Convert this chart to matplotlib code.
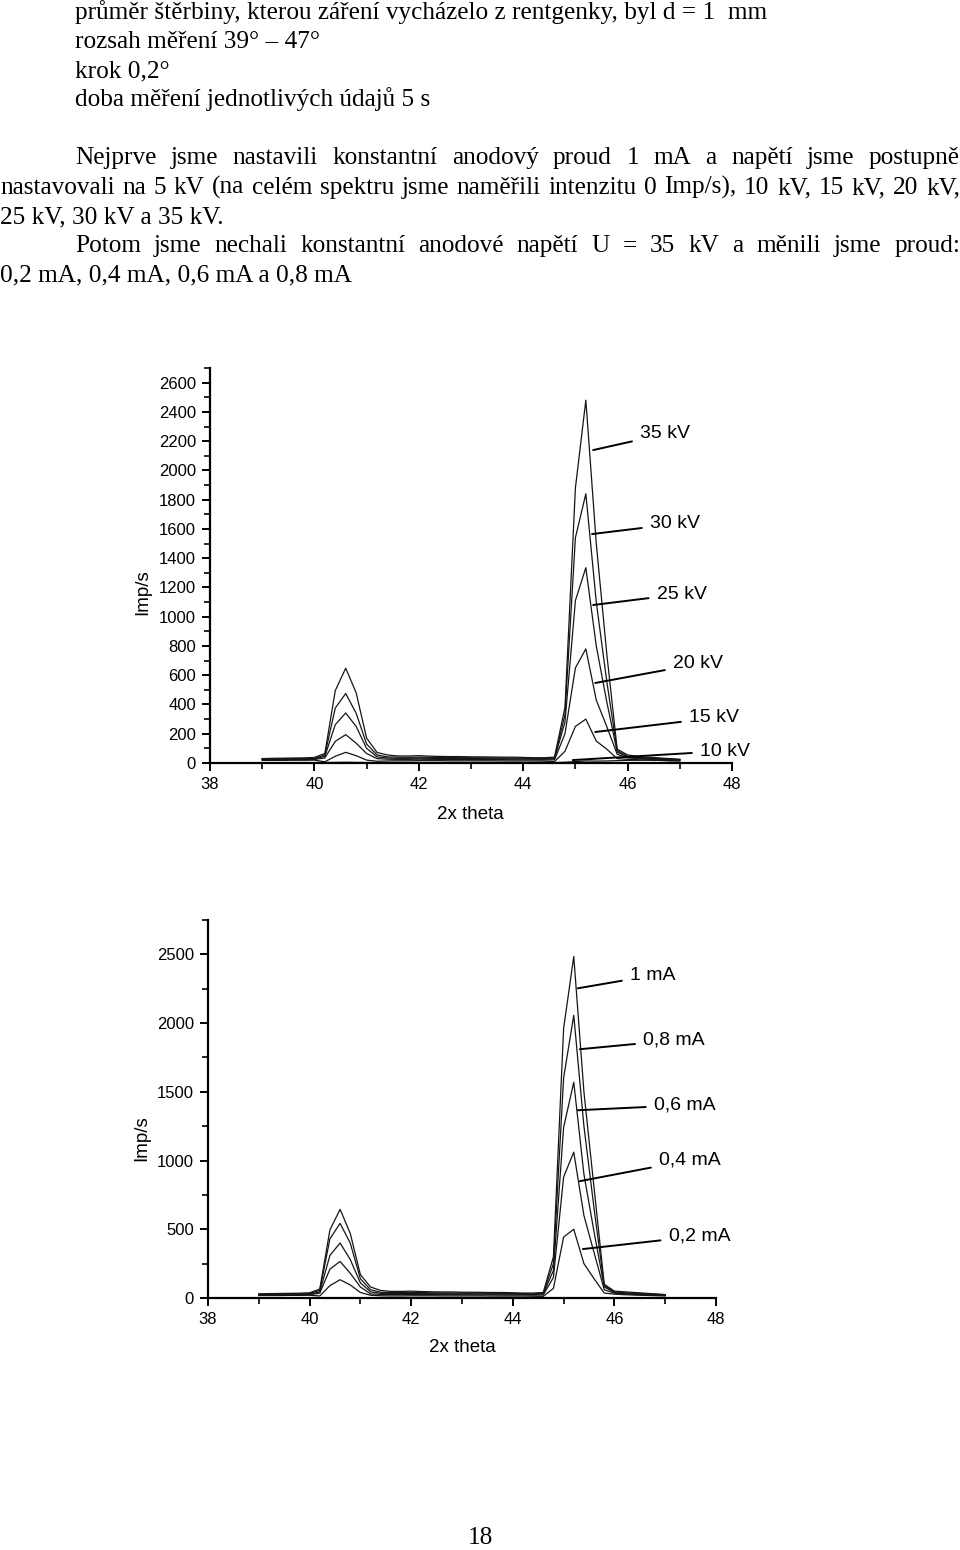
import matplotlib
matplotlib.use('Agg')
import matplotlib.pyplot as plt
from matplotlib.ticker import MultipleLocator

# uhel 2x theta, krok 0,2 stupne
theta = [39.0, 39.2, 39.4, 39.6, 39.8, 40.0, 40.2, 40.4, 40.6, 40.8,
         41.0, 41.2, 41.4, 41.6, 41.8, 42.0, 42.2, 42.4, 42.6, 42.8,
         43.0, 43.2, 43.4, 43.6, 43.8, 44.0, 44.2, 44.4, 44.6, 44.8,
         45.0, 45.2, 45.4, 45.6, 45.8, 46.0, 46.2, 46.4, 46.6, 46.8, 47.0]

# graf 1: proud 1 mA, ruzne napeti
napeti_popisky = ['35 kV', '30 kV', '25 kV', '20 kV', '15 kV', '10 kV']
kv35 = [30, 32, 33, 34, 35, 38, 65, 495, 648, 480, 170, 72, 55, 48, 48, 50, 47, 45, 44, 44,
        42, 42, 41, 40, 40, 38, 36, 36, 40, 380, 1880, 2480, 1500, 750, 95, 55, 45, 40, 35, 30, 25]
kv30 = [28, 28, 29, 30, 30, 32, 55, 376, 475, 340, 130, 55, 42, 40, 39, 40, 39, 38, 37, 36,
        36, 35, 35, 34, 34, 33, 32, 30, 35, 330, 1540, 1840, 1100, 560, 85, 45, 38, 34, 30, 27, 24]
kv25 = [25, 25, 26, 26, 27, 28, 45, 262, 342, 250, 100, 42, 34, 32, 32, 33, 32, 31, 31, 30,
        30, 30, 29, 29, 28, 28, 27, 26, 30, 280, 1110, 1335, 800, 420, 75, 40, 34, 30, 27, 24, 22]
kv20 = [22, 22, 22, 23, 23, 24, 35, 148, 194, 135, 65, 30, 26, 25, 25, 26, 25, 25, 24, 24,
        24, 23, 23, 23, 22, 22, 22, 21, 22, 200, 650, 780, 430, 250, 60, 35, 30, 26, 24, 22, 20]
kv15 = [18, 18, 18, 19, 19, 20, 8, 46, 73, 50, 20, 12, 14, 15, 15, 16, 16, 16, 15, 15,
        15, 15, 15, 14, 14, 14, 14, 13, 10, 80, 250, 300, 150, 95, 30, 25, 22, 20, 18, 16, 15]
kv10 = [3, 3, 3, 3, 3, 3, 3, 4, 5, 4, 3, 3, 3, 3, 3, 3, 3, 3, 3, 3,
        3, 3, 3, 3, 3, 3, 3, 3, 3, 5, 10, 14, 13, 14, 16, 18, 19, 20, 18, 16, 15]

# graf 2: napeti 35 kV, ruzne proudy
proud_popisky = ['1 mA', '0,8 mA', '0,6 mA', '0,4 mA', '0,2 mA']
ma10 = [30, 32, 33, 34, 35, 38, 65, 495, 645, 470, 170, 80, 55, 48, 48, 50, 47, 45, 44, 44,
        42, 42, 41, 40, 40, 38, 36, 36, 40, 300, 1960, 2485, 1500, 800, 100, 50, 45, 40, 35, 30, 25]
ma08 = [28, 28, 29, 30, 30, 32, 55, 430, 543, 400, 140, 60, 42, 40, 39, 40, 39, 38, 37, 36,
        36, 35, 35, 34, 34, 33, 32, 30, 35, 250, 1600, 2057, 1250, 650, 90, 45, 38, 34, 30, 27, 24]
ma06 = [25, 25, 26, 26, 27, 28, 45, 310, 400, 280, 110, 45, 34, 32, 32, 33, 32, 31, 31, 30,
        30, 30, 29, 29, 28, 28, 27, 26, 30, 200, 1240, 1570, 900, 480, 80, 40, 34, 30, 27, 24, 22]
ma04 = [22, 22, 22, 23, 23, 24, 35, 210, 266, 180, 80, 30, 26, 25, 25, 26, 25, 25, 24, 24,
        24, 23, 23, 23, 22, 22, 22, 21, 22, 150, 880, 1061, 600, 330, 60, 35, 30, 26, 24, 22, 20]
ma02 = [18, 18, 18, 19, 19, 20, 15, 90, 133, 95, 40, 20, 16, 15, 15, 16, 16, 16, 15, 15,
        15, 15, 15, 14, 14, 14, 14, 13, 12, 70, 443, 500, 250, 140, 36, 28, 24, 21, 19, 17, 15]

W, H = 960, 1550
fig = plt.figure(figsize=(W / 100, H / 100), dpi=100)
fig.patch.set_facecolor('white')

serif = 'Liberation Serif'
sans = 'Liberation Sans'
fs_txt = 18.2


def px(x, y):
    return x / W, 1 - y / H


renderer = fig.canvas.get_renderer()


def sirka(s):
    t = fig.text(0, 0, s, fontsize=fs_txt, family=serif)
    w = t.get_window_extent(renderer).width
    t.remove()
    return w


def radek(s, x0, y, x1=None):
    # y = stred radku, text se klade na uctarici
    yb = y + 7
    if x1 is None:
        fig.text(*px(x0, yb), s, fontsize=fs_txt, family=serif, va='baseline', ha='left')
        return
    slova = s.split(' ')
    ws = [sirka(w) for w in slova]
    mezera = (x1 - x0 - sum(ws)) / (len(slova) - 1)
    x = x0
    for w, ww in zip(slova, ws):
        fig.text(*px(x, yb), w, fontsize=fs_txt, family=serif, va='baseline', ha='left')
        x += ww + mezera


radek('průměr štěrbiny, kterou záření vycházelo z rentgenky, byl d = 1  mm', 75, 12)
radek('rozsah měření 39° – 47°', 75, 41)
radek('krok 0,2°', 75, 70)
radek('doba měření jednotlivých údajů 5 s', 75, 99)
radek('Nejprve jsme nastavili konstantní anodový proud 1 mA a napětí jsme postupně', 75, 157, 960)
radek('nastavovali na 5 kV (na celém spektru jsme naměřili intenzitu 0 Imp/s), 10 kV, 15 kV, 20 kV,', 0, 187, 960)
radek('25 kV, 30 kV a 35 kV.', 0, 216)
radek('Potom jsme nechali konstantní anodové napětí U = 35 kV a měnili jsme proud:', 75, 245, 960)
radek('0,2 mA, 0,4 mA, 0,6 mA a 0,8 mA', 0, 274)
fig.text(*px(480, 1538), '18', fontsize=fs_txt, family=serif, ha='center', va='center')


def graf(rect, serie, popisky, ymax, major, minor, pozice):
    ax = fig.add_axes(rect)
    for s in serie:
        ax.plot(theta, s, color='#151515', lw=0.9)
    ax.set_xlim(38, 48)
    ax.set_ylim(0, ymax)
    ax.xaxis.set_major_locator(MultipleLocator(2))
    ax.xaxis.set_minor_locator(MultipleLocator(1))
    ax.yaxis.set_major_locator(MultipleLocator(major))
    ax.yaxis.set_minor_locator(MultipleLocator(minor))
    for side in ['top', 'right']:
        ax.spines[side].set_visible(False)
    for side in ['left', 'bottom']:
        ax.spines[side].set_linewidth(1.6)
    ax.tick_params(which='major', direction='out', length=6, width=1.4, labelsize=12, pad=4)
    ax.tick_params(which='minor', direction='out', length=4, width=1.2)
    for lab in ax.get_xticklabels() + ax.get_yticklabels():
        lab.set_family(sans)
    for text, (xy, xyt) in zip(popisky, pozice):
        ax.annotate(text, xy=xy, xytext=xyt, ha='left', va='center', fontsize=14, family=sans,
                    arrowprops=dict(arrowstyle='-', lw=1.4, color='black', shrinkA=4, shrinkB=0))
    ax.set_facecolor('none')
    return ax


# graf 1
l1, r1, t1, b1 = 210, 732, 368, 763
ax1 = graf([l1 / W, 1 - b1 / H, (r1 - l1) / W, (b1 - t1) / H],
           [kv35, kv30, kv25, kv20, kv15, kv10], napeti_popisky, 2700, 200, 100,
           [((45.34, 2139), (46.24, 2249)), ((45.32, 1565), (46.43, 1634)),
            ((45.34, 1080), (46.56, 1155)), ((45.38, 547), (46.87, 677)),
            ((45.38, 212), (47.18, 308)), ((44.95, 20), (47.39, 82))])
fig.text(*px(143, 592), 'Imp/s', rotation=90, fontsize=13.5, family=sans, ha='center', va='center')
fig.text(*px(470, 815), '2x theta', fontsize=13.5, family=sans, ha='center', va='center')

# graf 2
l2, r2, t2, b2 = 208, 716, 920, 1298
ax2 = graf([l2 / W, 1 - b2 / H, (r2 - l2) / W, (b2 - t2) / H],
           [ma10, ma08, ma06, ma04, ma02], proud_popisky, 2750, 500, 250,
           [((45.28, 2253), (46.31, 2347)), ((45.32, 1810), (46.57, 1875)),
            ((45.28, 1366), (46.78, 1403)), ((45.32, 850), (46.88, 1003)),
            ((45.38, 356), (47.07, 451))])
fig.text(*px(142, 1138), 'Imp/s', rotation=90, fontsize=13.5, family=sans, ha='center', va='center')
fig.text(*px(462, 1348), '2x theta', fontsize=13.5, family=sans, ha='center', va='center')

fig.savefig('out.png', dpi=100)
